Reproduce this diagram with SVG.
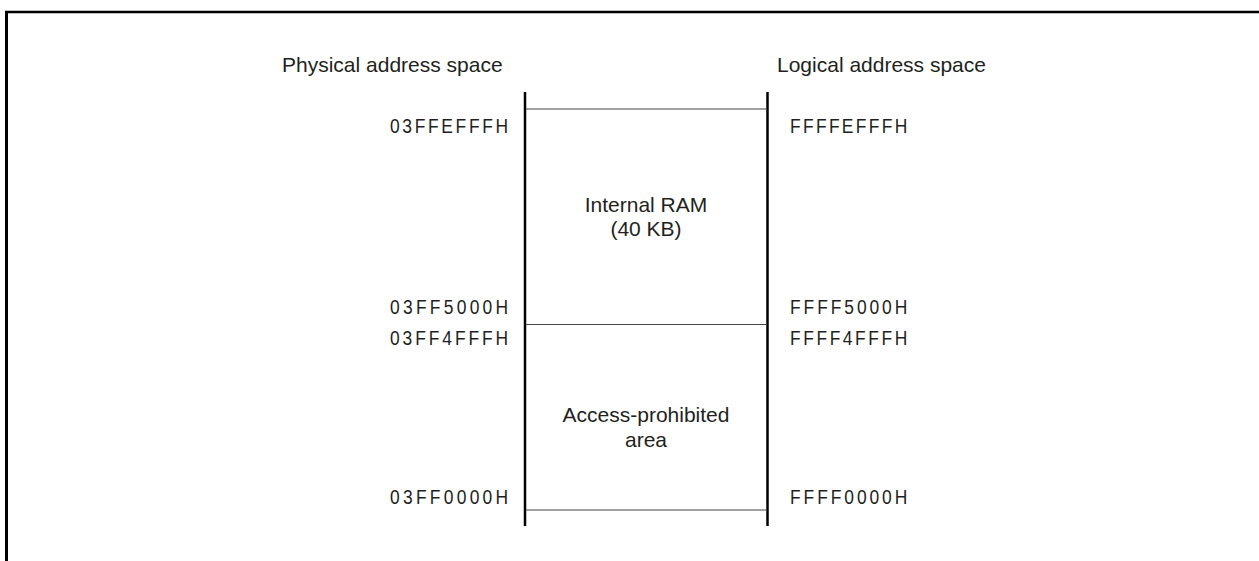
<svg xmlns="http://www.w3.org/2000/svg" width="1259" height="561" viewBox="0 0 1259 561">
<style>
.t{font-family:"Liberation Sans",Arial,sans-serif;font-size:21px;fill:#231f20}
.c{text-anchor:middle}
.a{font-family:"Liberation Sans",Arial,sans-serif;font-size:20.5px;fill:#231f20}
.v{stroke:#000;stroke-width:2.5;fill:none}
.h{stroke:#444;stroke-width:1.2;fill:none}
.b{stroke:#000;fill:none}
</style>
<rect width="1259" height="561" fill="#fff"/>
<g id="frame">
<line class="b" x1="5" y1="12" x2="1259" y2="12" stroke-width="2.6"/>
<line class="b" x1="6.5" y1="11" x2="6.5" y2="561" stroke-width="3"/>
</g>
<g id="headers">
<text class="t" x="282" y="72">Physical address space</text>
<text class="t" x="777" y="72">Logical address space</text>
</g>
<g id="connectors">
<line class="v" x1="525" y1="92" x2="525" y2="526"/>
<line class="v" x1="767.5" y1="92" x2="767.5" y2="526"/>
<line class="h" x1="526" y1="109" x2="767" y2="109"/>
<line class="h" x1="526" y1="324.5" x2="767" y2="324.5"/>
<line class="h" x1="526" y1="510" x2="767" y2="510"/>
</g>
<g id="internal-ram">
<text class="t c" x="646" y="212">Internal RAM</text>
<text class="t c" x="646" y="236">(40 KB)</text>
</g>
<g id="access-prohibited">
<text class="t c" x="646" y="422">Access-prohibited</text>
<text class="t c" x="646" y="447">area</text>
</g>
<g id="physical-labels">
<text class="a" transform="translate(390 133) scale(0.85 1)" textLength="139" lengthAdjust="spacing">03FFEFFFH</text>
<text class="a" transform="translate(390 314) scale(0.85 1)" textLength="139" lengthAdjust="spacing">03FF5000H</text>
<text class="a" transform="translate(390 345) scale(0.85 1)" textLength="139" lengthAdjust="spacing">03FF4FFFH</text>
<text class="a" transform="translate(390 504) scale(0.85 1)" textLength="139" lengthAdjust="spacing">03FF0000H</text>
</g>
<g id="logical-labels">
<text class="a" transform="translate(790 133) scale(0.85 1)" textLength="138" lengthAdjust="spacing">FFFFEFFFH</text>
<text class="a" transform="translate(790 314) scale(0.85 1)" textLength="138" lengthAdjust="spacing">FFFF5000H</text>
<text class="a" transform="translate(790 345) scale(0.85 1)" textLength="138" lengthAdjust="spacing">FFFF4FFFH</text>
<text class="a" transform="translate(790 504) scale(0.85 1)" textLength="138" lengthAdjust="spacing">FFFF0000H</text>
</g>
</svg>
